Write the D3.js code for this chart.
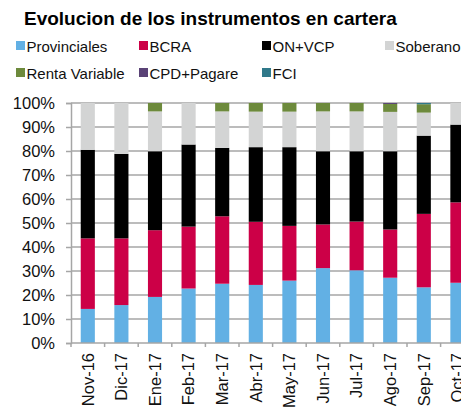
<!DOCTYPE html>
<html>
<head>
<meta charset="utf-8">
<script src="https://cdn.jsdelivr.net/npm/d3@7"></script>
<style>
body { margin: 0; background: #fff; }
svg { display: block; font-family: "Liberation Sans", Arial, sans-serif; }
</style>
</head>
<body>
<script>
var months = ["Nov-16","Dic-17","Ene-17","Feb-17","Mar-17","Abr-17","May-17","Jun-17","Jul-17","Ago-17","Sep-17","Oct-17"];

var provinciales  = [14.2, 15.8, 19.2, 22.7, 24.7, 24.2, 26.0, 31.2, 30.3, 27.2, 23.2, 25.1];
var bcra          = [29.4, 27.8, 27.8, 25.8, 28.1, 26.3, 22.8, 18.2, 20.3, 20.1, 30.6, 33.5];
var onVcp         = [36.9, 35.2, 32.9, 34.2, 28.5, 31.1, 32.8, 30.5, 29.3, 32.6, 32.6, 32.4];
var soberano      = [19.5, 21.2, 16.6, 17.3, 15.2, 14.8, 14.8, 16.6, 16.6, 16.4,  9.6,  9.0];
var rentaVariable = [ 0.0,  0.0,  3.5,  0.0,  3.5,  3.6,  3.6,  3.5,  3.5,  3.3,  3.5,  0.0];
var cpdPagare     = [ 0.0,  0.0,  0.0,  0.0,  0.0,  0.0,  0.0,  0.0,  0.0,  0.4,  0.0,  0.0];
var fci           = [ 0.0,  0.0,  0.0,  0.0,  0.0,  0.0,  0.0,  0.0,  0.0,  0.0,  0.5,  0.0];

var seriesNames = ["Provinciales","BCRA","ON+VCP","Soberano","Renta Variable","CPD+Pagare","FCI"];
var seriesVals = [provinciales, bcra, onVcp, soberano, rentaVariable, cpdPagare, fci];
var colors = ["#62b0e4","#cc0047","#000000","#d3d4d4","#6d8a3c","#5a4276","#30798a"];
var yTicks = [0,10,20,30,40,50,60,70,80,90,100];

var W = 461, H = 413;
var plotLeft = 71, plotTop = 103, plotBottom = 343;

var svg = d3.select("body").append("svg").attr("width", W).attr("height", H);

// title
svg.append("text")
    .attr("x", 24).attr("y", 25)
    .style("font-weight", "bold").style("font-size", "19px")
    .text("Evolucion de los instrumentos en cartera");

// legend
var legX = [16, 139, 262, 385];
seriesNames.forEach(function(n, i){
  var gx = legX[i % 4], gy = i < 4 ? 46 : 73;
  svg.append("rect").attr("x", gx).attr("y", gy - 5).attr("width", 9).attr("height", 9).attr("fill", colors[i]);
  svg.append("text").attr("x", gx + 10.5).attr("y", gy + 5.5)
      .style("font-size", "15px").attr("fill", "#111").text(n);
});

// table for stacking
var table = months.map(function(m, i){
  var row = {month: m};
  seriesNames.forEach(function(n, j){ row[n] = seriesVals[j][i]; });
  return row;
});
var stacked = d3.stack().keys(seriesNames)(table);

var x = d3.scaleBand().domain(months).range([plotLeft, plotLeft + 12 * 33.6]).paddingInner(0.58).paddingOuter(0.29);
var y = d3.scaleLinear().domain([0, 100]).range([plotBottom, plotTop]);

// gridlines
svg.append("g").selectAll("line").data(yTicks.slice(1)).join("line")
    .attr("x1", plotLeft).attr("x2", W)
    .attr("y1", function(d){ return y(d); }).attr("y2", function(d){ return y(d); })
    .attr("stroke", "#a6a6a6").attr("stroke-width", 1.5);

// bars
svg.append("g").selectAll("g").data(stacked).join("g")
    .attr("fill", function(d, i){ return colors[i]; })
  .selectAll("rect").data(function(d){ return d; }).join("rect")
    .attr("x", function(d){ return x(d.data.month); })
    .attr("width", x.bandwidth())
    .attr("y", function(d){ return y(d[1]); })
    .attr("height", function(d){ return y(d[0]) - y(d[1]); });

// y axis
var yAxis = svg.append("g").attr("transform", "translate(" + plotLeft + ",0)")
    .call(d3.axisLeft(y).tickValues(yTicks).tickFormat(function(d){ return d + "%"; }).tickSize(5).tickPadding(11));
yAxis.selectAll("line, path").attr("stroke", "#a6a6a6").attr("stroke-width", 1.5);
yAxis.selectAll("text").style("font-size", "16.5px").attr("fill", "#111").style("font-family", "Liberation Sans, Arial, sans-serif");

// x axis
var xAxis = svg.append("g").attr("transform", "translate(0," + plotBottom + ")")
    .call(d3.axisBottom(x).tickSize(0).tickPadding(0));
xAxis.select("path").attr("stroke", "#a6a6a6").attr("stroke-width", 1.5).attr("d", "M" + plotLeft + ",0H" + W);
xAxis.selectAll("text")
    .style("font-size", "16.5px").attr("fill", "#111").style("font-family", "Liberation Sans, Arial, sans-serif")
    .attr("text-anchor", "end")
    .attr("transform", "rotate(-90)")
    .attr("x", -10).attr("y", 0).attr("dy", "0.35em");

// category boundary ticks
svg.append("g").selectAll("line").data(d3.range(13)).join("line")
    .attr("x1", function(i){ return plotLeft + i * x.step(); })
    .attr("x2", function(i){ return plotLeft + i * x.step(); })
    .attr("y1", plotBottom).attr("y2", plotBottom + 4)
    .attr("stroke", "#a6a6a6").attr("stroke-width", 1.5);
</script>
</body>
</html>
